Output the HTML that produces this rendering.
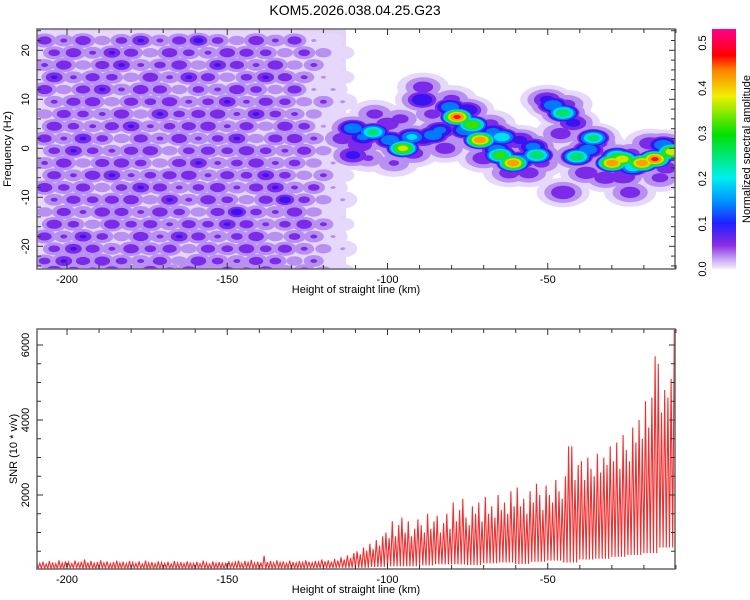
<!DOCTYPE html>
<html><head><meta charset="utf-8">
<style>
html,body{margin:0;padding:0;background:#fff;}
svg{display:block;font-family:"Liberation Sans",sans-serif;}
</style></head>
<body>
<svg id="c" width="750" height="600" viewBox="0 0 750 600">
<defs>
<linearGradient id="cbar" x1="0" y1="1" x2="0" y2="0">
<stop offset="0" stop-color="#f4eefc"/>
<stop offset="0.04" stop-color="#c8a8f4"/>
<stop offset="0.1" stop-color="#8a2be2"/>
<stop offset="0.19" stop-color="#2020ff"/>
<stop offset="0.28" stop-color="#0090ff"/>
<stop offset="0.38" stop-color="#00f0f0"/>
<stop offset="0.56" stop-color="#00e000"/>
<stop offset="0.72" stop-color="#f0f000"/>
<stop offset="0.83" stop-color="#ff8000"/>
<stop offset="0.89" stop-color="#ff0000"/>
<stop offset="1" stop-color="#ff0090"/>
</linearGradient>
<clipPath id="clipTop"><rect x="37" y="29" width="638" height="240"/></clipPath>
<clipPath id="clipBot"><rect x="37" y="329" width="638" height="240"/></clipPath>
</defs>
<text x="355" y="15" font-size="14" text-anchor="middle" fill="#000">KOM5.2026.038.04.25.G23</text>
<g id="heat" clip-path="url(#clipTop)"></g>
<g id="snr" clip-path="url(#clipBot)"></g>
<g id="axes"></g>
<rect x="712" y="29" width="24" height="240" fill="url(#cbar)"/>
<text transform="translate(750,149) rotate(-90)" font-size="11" text-anchor="middle">Normalized spectral amplitude</text>
<text transform="translate(11,149) rotate(-90)" font-size="11" text-anchor="middle">Frequency (Hz)</text>
<text x="356" y="293" font-size="11" text-anchor="middle">Height of straight line (km)</text>
<text transform="translate(17,449) rotate(-90)" font-size="11" text-anchor="middle">SNR (10 * v/v)</text>
<text x="356" y="593" font-size="11" text-anchor="middle">Height of straight line (km)</text>
</svg>
<script>
// ---- data ----
const xTicks = [-200, -150, -100, -50];
const freqTicks = [20, 10, 0, -10, -20];
const snrTicks = [2000, 4000, 6000];
const cbarTicks = [0.0, 0.1, 0.2, 0.3, 0.4, 0.5];
// noise grids (heatmap cells), amplitudes in hundredths
const noiseKm = [-207,-201,-195,-189,-183,-177,-171,-165,-159,-153,-147,-141,-135,-129,-123,-117];
const noiseHz = [22,17,12,7,2,-3,-8,-13,-18,-23];
const noiseAmp = [
[7,5,8,4,6,9,5,7,10,6,4,8,5,7,3,2],
[5,8,4,7,9,5,6,8,4,9,7,5,8,4,5,2],
[8,4,7,9,5,8,7,4,6,5,8,6,4,7,3,3],
[4,7,6,5,8,4,9,6,7,8,5,9,6,5,4,2],
[7,5,9,6,4,7,5,8,5,6,9,4,7,8,5,4],
[5,8,4,7,8,6,4,7,9,5,6,8,5,6,4,3],
[8,6,7,4,6,9,7,5,6,8,5,7,9,5,6,3],
[4,7,5,8,7,5,8,6,4,7,11,6,5,8,4,2],
[7,5,9,6,4,8,5,9,7,5,6,8,4,6,5,3],
[6,9,7,8,6,5,7,4,8,6,5,7,6,4,5,2]
];
const noiseKm2 = [-204,-198,-192,-186,-180,-174,-168,-162,-156,-150,-144,-138,-132,-126,-120,-114];
const noiseHz2 = [19.5,14.5,9.5,4.5,-0.5,-5.5,-10.5,-15.5,-20.5,-25];
const noiseAmp2 = [
[6,8,5,9,7,4,8,6,5,8,7,6,4,6,4,2],
[9,5,7,6,4,8,5,9,7,4,6,9,7,5,3,2],
[5,7,8,4,7,6,8,5,6,9,5,7,6,4,5,3],
[8,6,5,7,9,5,6,7,8,5,7,4,8,6,3,2],
[6,9,6,5,7,8,4,6,7,6,8,6,5,7,4,3],
[7,5,8,9,5,6,7,8,5,7,6,9,6,4,5,2],
[5,7,6,7,8,4,9,5,8,6,4,7,11,6,4,3],
[8,6,4,8,6,7,5,7,6,9,7,5,6,8,5,2],
[6,9,7,5,8,6,7,4,7,6,8,6,7,5,4,3],
[9,7,6,8,5,9,6,8,5,7,6,8,5,6,4,2]
];
// signal blobs: km, Hz, amplitude
const sigKm  = [-110.8,-104.5,-107.6,-99.2,-95.2,-92.4,-85.8,-83.6,-88.9,-78.3,-80.5,-75.2,-73.6,-75.8,-71.1,-67.1,-64.3,-65.8,-64.9,-60.8,-58.7,-53.4,-54.6,-58.7,-88.9,-89.2,-45.2,-48.4,-45.2,-50.2,-40.9,-35.8,-37.4,-29.9,-26.8,-28.4,-20.6,-16.6,-11.2,-23.4,-14,-42.1,-110.8,-108.6,-26.5,-24.3,-114,-100,-92,-82,-70,-62,-56,-46,-38,-32,-18,-13,-104,-96,-86,-80,-68,-60,-52,-44,-34,-24,-15,-106,-98];
const sigHz  = [4.1,3.3,2.3,1.7,0,2.3,2.7,3.7,2.1,6.4,8.4,7.8,4.8,3.7,1.7,3.3,2.3,-0.3,-1.4,-3,-2.4,-1.4,0.3,1.7,12.5,9.9,-9,8.8,7.2,9.9,-1.7,2.1,-0.3,-3,-2.2,-1.7,-3,-2.2,-0.7,-3.8,0.7,5.2,-1.4,0.7,-5.8,-9,2,5,-1,0,-2,-5,-5,3,-5,-6,1,-4,7,6,7,10,5,1,-3,9,1,-1,-6,-2,-3];
const sigAmp = [0.2,0.28,0.17,0.2,0.38,0.22,0.2,0.17,0.15,0.47,0.2,0.15,0.35,0.2,0.45,0.18,0.25,0.2,0.33,0.45,0.2,0.3,0.18,0.12,0.08,0.15,0.1,0.2,0.3,0.12,0.3,0.28,0.2,0.45,0.4,0.3,0.45,0.47,0.4,0.25,0.2,0.12,0.12,0.1,0.1,0.08,0.08,0.09,0.08,0.08,0.09,0.08,0.08,0.08,0.09,0.09,0.09,0.08,0.07,0.07,0.07,0.07,0.07,0.07,0.07,0.07,0.07,0.07,0.07,0.06,0.06];
// SNR: per-km peaks (-210..-10) and per-5km troughs
const snrHi = [250,180,220,160,240,200,170,260,190,230,
210,170,250,190,220,280,200,240,180,210,
260,190,230,170,210,250,190,220,170,240,
200,180,230,160,250,190,210,170,230,200,
180,220,160,240,190,210,170,230,200,180,
220,170,250,190,160,230,180,210,200,170,
230,190,210,250,180,240,200,270,190,220,
200,380,210,240,190,260,200,230,180,250,
210,190,240,200,260,220,190,240,210,280,
230,260,220,300,250,340,280,390,320,450,
500,420,600,520,700,560,800,650,900,1000,
850,1300,900,1200,1400,1000,1300,900,1100,1350,
1200,1000,1500,1100,1300,1450,1000,1250,1500,1100,
1800,1300,1600,1900,1400,1200,1700,1500,1800,1300,
1950,1500,1700,1400,2000,1600,1800,1500,2100,1700,
2200,1700,1900,1500,2100,1800,2300,2000,1600,2250,
2000,1800,2400,2100,1900,2500,3300,3300,2400,2800,
2900,2400,3000,2700,2500,3100,2600,3000,2800,3300,
2900,3400,2700,3600,3200,2900,3800,3400,4000,3500,
4500,3800,4600,5700,5500,4200,4800,4600,5100,6400,
3500];
const snrLo = [40,30,50,30,40,35,45,30,40,35,40,30,50,40,35,45,40,50,50,60,
60,80,100,100,120,150,150,130,180,200,160,220,250,200,280,300,350,400,450,600,500];

// ---- scales ----
const xs = km => 67 + (km + 200) * 3.205;
const yf = hz => 148.3 - hz * 4.9;
const ys = v => 570 - v * 0.0375;
const NS = "http://www.w3.org/2000/svg";
function mk(tag, attrs, parent){const e=document.createElementNS(NS,tag);for(const k in attrs)e.setAttribute(k,attrs[k]);parent.appendChild(e);return e;}

const levels = [0.015,0.035,0.055,0.1,0.15,0.2,0.25,0.3,0.35,0.4,0.45];
const levelColors = ["#e6d8fa","#b890f2","#7a2ae8","#3a14f0","#0078ff","#00dcf0","#00e070","#38e000","#d0e800","#ffa000","#ff1800"];

const heat = document.getElementById('heat');
const blobs = [];
for(let r=0;r<noiseHz.length;r++)for(let c=0;c<noiseKm.length;c++){
  blobs.push({km:noiseKm[c], hz:noiseHz[r], a:noiseAmp[r][c]/100*1.2, rx:12, ry:7});
}
for(let r=0;r<noiseHz2.length;r++)for(let c=0;c<noiseKm2.length;c++){
  blobs.push({km:noiseKm2[c], hz:noiseHz2[r], a:noiseAmp2[r][c]/100*1.2, rx:12, ry:7});
}
for(let i=0;i<sigKm.length;i++) blobs.push({km:sigKm[i], hz:sigHz[i], a:sigAmp[i], rx:18, ry:10});
const wash = mk('rect',{x:xs(-212),y:29,width:xs(-113)-xs(-212),height:240,fill:'#e2d2f8'},heat);


for(let L=0;L<levels.length;L++){
  for(const b of blobs){
    if(b.a < levels[L]) continue;
    const f = Math.sqrt(1 - levels[L]/b.a) * (L===0?1.6:(L===1?1.3:1));
    const e = mk('ellipse',{cx:xs(b.km),cy:yf(b.hz),rx:(b.rx*f).toFixed(1),ry:(b.ry*f).toFixed(1),fill:levelColors[L]},heat);
    
    
  }
}

// SNR line
const pts=[];
for(let i=0;i<snrHi.length;i++){
  const km=-210+i;
  const lo=snrLo[Math.floor(i/5)];
  pts.push(xs(km).toFixed(1)+','+ys(lo).toFixed(1));
  pts.push(xs(km+0.5).toFixed(1)+','+ys(snrHi[i]).toFixed(1));
}
const line = mk('polyline',{points:pts.join(' '),fill:'none',stroke:'#f03030','stroke-width':1.1},document.getElementById('snr'));



// axes
const ax=document.getElementById('axes');
function frame(y0,y1,name){
  const r=mk('rect',{x:37,y:y0,width:638,height:y1-y0,fill:'none',stroke:'#666','stroke-width':1.5},ax);
  
  
  for(let km=-200;km<=-10;km+=10){
    const maj = km%50===0, len = maj?6:4;
    mk('line',{x1:xs(km),x2:xs(km),y1:y0,y2:y0+len,stroke:'#333','stroke-width':1},ax);
    mk('line',{x1:xs(km),x2:xs(km),y1:y1,y2:y1-len,stroke:'#333','stroke-width':1},ax);
  }
  for(const t of xTicks){
    const tx=mk('text',{x:xs(t),y:y1+14,'font-size':11,'text-anchor':'middle'},ax);
    tx.textContent=t;
    
    
  }
}
frame(29,269,'top-plot-frame');
frame(329,569,'bottom-plot-frame');
for(let hz=-24;hz<=24;hz+=2){
  const len = hz%10===0?6:4;
  mk('line',{x1:675,x2:675-len,y1:yf(hz),y2:yf(hz),stroke:'#333','stroke-width':1},ax);
  mk('line',{x1:37,x2:37+len,y1:yf(hz),y2:yf(hz),stroke:'#333','stroke-width':1},ax);
}
for(const t of freqTicks){
  const tx=mk('text',{transform:`translate(29,${yf(t)}) rotate(-90)`,'font-size':11,'text-anchor':'middle'},ax);
  tx.textContent=t;
  
  
}
for(let v=500;v<=6400;v+=500){
  const len = v%2000===0?6:4;
  mk('line',{x1:37,x2:37+len,y1:ys(v),y2:ys(v),stroke:'#333','stroke-width':1},ax);
  mk('line',{x1:675,x2:675-len,y1:ys(v),y2:ys(v),stroke:'#333','stroke-width':1},ax);
}
for(const t of snrTicks){
  const tx=mk('text',{transform:`translate(29,${ys(t)}) rotate(-90)`,'font-size':11,'text-anchor':'middle'},ax);
  tx.textContent=t;
  
  
}
for(const t of cbarTicks){
  const y=269 - t/0.531*240;
  const tx=mk('text',{transform:`translate(706,${y}) rotate(-90)`,'font-size':11,'text-anchor':'middle'},ax);
  tx.textContent=t.toFixed(1);
  
  
}
</script>
</body></html>
